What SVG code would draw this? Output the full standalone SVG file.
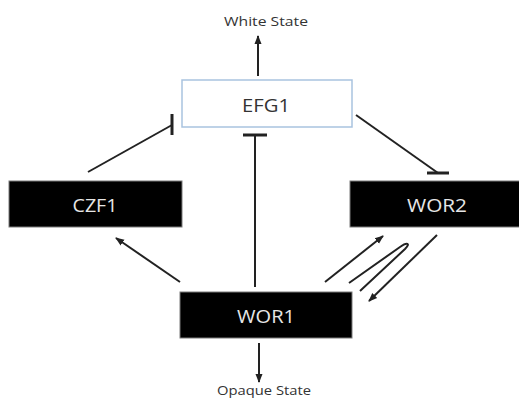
<svg xmlns="http://www.w3.org/2000/svg" width="519" height="400" viewBox="0 0 519 400">
<style>
.dark{fill:#000;stroke:#7a7a7a;stroke-width:1}
.light{fill:#fff;stroke:#a9c3df;stroke-width:1.5}
.lbl{font-family:"Open Sans","Liberation Sans",sans-serif;font-size:19px;text-anchor:middle}
.wl{fill:#e6e6e6}
.bl{fill:#333}
.st{font-family:"Open Sans","Liberation Sans",sans-serif;font-size:12px;fill:#333;text-anchor:middle}
.c{stroke:#222;stroke-width:2;fill:none}
.bar{stroke:#222;stroke-width:3;fill:none}
</style>
<defs>
<marker id="ah" markerUnits="userSpaceOnUse" markerWidth="10" markerHeight="10" viewBox="0 0 10 10" refX="8" refY="5" orient="auto">
<path d="M0,1.5 L9,5 L0,8.5 Z" fill="#222"/>
</marker>
</defs>
<rect width="519" height="400" fill="#fff"/>
<g id="connectors">
<line class="c" x1="258" y1="76" x2="258" y2="36" marker-end="url(#ah)"/>
<line class="c" x1="259" y1="343" x2="259" y2="382" marker-end="url(#ah)"/>
<line class="c" x1="88" y1="172" x2="172" y2="125"/>
<line class="bar" x1="172" y1="114" x2="172" y2="135"/>
<line class="c" x1="356" y1="115" x2="438" y2="173"/>
<line class="bar" x1="427" y1="173" x2="449" y2="173"/>
<line class="c" x1="255" y1="287" x2="255" y2="135"/>
<line class="bar" x1="243" y1="135" x2="267" y2="135"/>
<line class="c" x1="180" y1="282" x2="116" y2="238" marker-end="url(#ah)"/>
<line class="c" x1="325" y1="282" x2="383" y2="236" marker-end="url(#ah)"/>
<path class="c" d="M349,283 L400,247 C407,242 411,243 405,249 L360,291"/>
<line class="c" x1="437" y1="235" x2="369" y2="301" marker-end="url(#ah)"/>
</g>
<g id="white-state"><text class="st" x="266" y="26" textLength="84" lengthAdjust="spacingAndGlyphs">White State</text></g>
<g id="opaque-state"><text class="st" x="264" y="395" textLength="94" lengthAdjust="spacingAndGlyphs">Opaque State</text></g>
<g id="EFG1"><rect class="light" x="182" y="80" width="170" height="47"/><text class="lbl bl" x="266" y="112" textLength="48" lengthAdjust="spacingAndGlyphs">EFG1</text></g>
<g id="CZF1"><rect class="dark" x="9" y="181" width="173" height="46"/><text class="lbl wl" x="95" y="212" textLength="45" lengthAdjust="spacingAndGlyphs">CZF1</text></g>
<g id="WOR2"><rect class="dark" x="350" y="181" width="172" height="46"/><text class="lbl wl" x="437" y="212" textLength="60" lengthAdjust="spacingAndGlyphs">WOR2</text></g>
<g id="WOR1"><rect class="dark" x="180" y="292" width="172" height="46"/><text class="lbl wl" x="266" y="323" textLength="58" lengthAdjust="spacingAndGlyphs">WOR1</text></g>
</svg>
